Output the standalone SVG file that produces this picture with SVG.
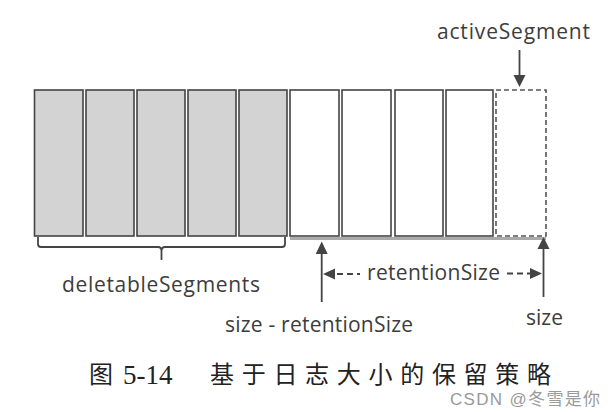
<svg xmlns="http://www.w3.org/2000/svg" width="616" height="412" viewBox="0 0 616 412">
  <style>
    .lbl { font-family: "Open Sans", "Liberation Sans", sans-serif; font-size: 21px; fill: #3d3d3d; }
    .seg-del { fill: #d3d3d3; stroke: #444; stroke-width: 1.6; }
    .seg-keep { fill: #fff; stroke: #444; stroke-width: 1.6; }
    .seg-act { fill: #fff; stroke: #555; stroke-width: 1.6; stroke-dasharray: 5 3; }
    .ln { stroke: #444; stroke-width: 1.8; fill: none; }
    .dash { stroke: #444; stroke-width: 2; stroke-dasharray: 6 4; fill: none; }
    .head { fill: #444; }
    .cap { font-family: "Noto Sans CJK SC", "Noto Sans CJK TC", serif; font-size: 24px; fill: #222; }
  </style>
  <rect width="616" height="412" fill="#fff"/>

  <g id="seg1"><rect class="seg-del" x="34.5" y="90" width="48.5" height="146"/></g>
  <g id="seg2"><rect class="seg-del" x="86" y="90" width="48" height="146"/></g>
  <g id="seg3"><rect class="seg-del" x="137" y="90" width="48" height="146"/></g>
  <g id="seg4"><rect class="seg-del" x="188" y="90" width="48" height="146"/></g>
  <g id="seg5"><rect class="seg-del" x="239" y="90" width="48" height="146"/></g>
  <g id="seg6"><rect class="seg-keep" x="290" y="90" width="49" height="146"/></g>
  <g id="seg7"><rect class="seg-keep" x="342" y="90" width="49" height="146"/></g>
  <g id="seg8"><rect class="seg-keep" x="395" y="90" width="48" height="146"/></g>
  <g id="seg9"><rect class="seg-keep" x="446" y="90" width="47" height="146"/></g>
  <g id="activeSegmentBox"><rect class="seg-act" x="496" y="90" width="50" height="146"/></g>

  <g id="labels">
    <text class="lbl" x="437" y="39" textLength="153">activeSegment</text>
    <text class="lbl" x="62" y="291.5" textLength="198">deletableSegments</text>
    <text class="lbl" x="367" y="280" textLength="133">retentionSize</text>
    <text class="lbl" x="225" y="331.5" textLength="188">size - retentionSize</text>
    <text class="lbl" x="526" y="325" textLength="37">size</text>
  </g>

  <g id="connectors">
    <line x1="290" y1="238.5" x2="546" y2="238.5" stroke="#aaa" stroke-width="3"/>
    <line class="ln" x1="519.5" y1="50" x2="519.5" y2="78"/>
    <polygon class="head" points="513.5,75 525.5,75 519.5,87"/>
    <path class="ln" stroke="#555" stroke-width="2" d="M38,237 L38,244 Q38,247 41,247 L158,247 Q161.5,247 161.5,251 L161.5,260 M161.5,251 Q161.5,247 165,247 L282,247 Q285,247 285,244 L285,237"/>
    <line class="ln" x1="321.7" y1="302" x2="321.7" y2="252"/>
    <polygon class="head" points="321.7,241.5 315.7,254 327.7,254"/>
    <line class="ln" x1="543.5" y1="297" x2="543.5" y2="247"/>
    <polygon class="head" points="543.5,237 537.5,249 549.5,249"/>
    <polygon class="head" points="323,274 335,268.5 335,279.5"/>
    <line class="dash" x1="337" y1="274" x2="360" y2="274"/>
    <line class="dash" x1="507" y1="273.5" x2="530" y2="273.5"/>
    <polygon class="head" points="542,273.5 530,268 530,279"/>
  </g>

  <g id="caption">
    <text class="cap" x="89" y="383">图</text>
    <text x="123" y="384" font-family="Liberation Serif, serif" font-size="27" fill="#222">5-14</text>
    <text class="cap" x="210" y="383" letter-spacing="7.7">基于日志大小的保留策略</text>
  </g>

  <g id="watermark">
    <text x="450" y="405" font-family="Liberation Sans, Noto Sans CJK SC, sans-serif" font-size="17" fill="#9a9a9a" textLength="150">CSDN @冬雪是你</text>
  </g>
</svg>
